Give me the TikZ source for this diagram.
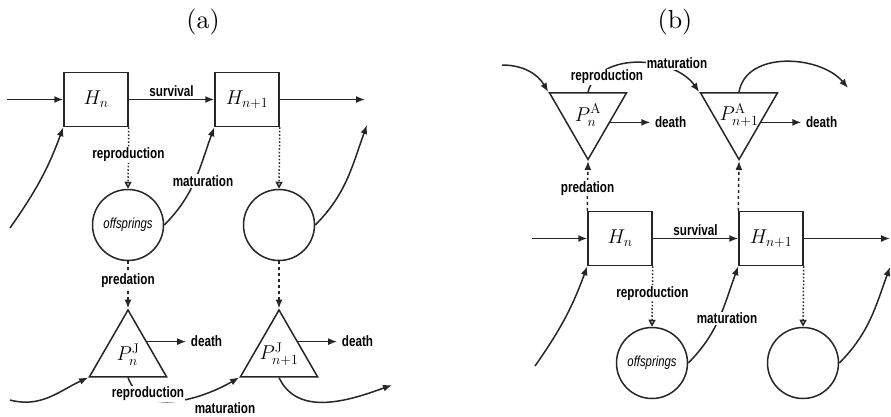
\RequirePackage{fix-cm}
\documentclass[tikz,border=0pt]{standalone}
\usepackage{fontspec}
\newfontfamily\lblfont[FakeStretch=0.78]{Liberation Sans}
\newfontfamily\capfont{lmroman10-regular}[Extension=.otf]
\usetikzlibrary{arrows.meta,shapes.geometric,calc,positioning}

\begin{document}
\begin{tikzpicture}[x=1pt,y=1pt,>={Latex[length=9pt,width=7pt]},node distance=151pt,
  line width=1.5pt,draw=black!85,
  stage/.style={draw,rectangle,minimum width=64pt,minimum height=54pt,inner sep=0pt,font=\fontsize{20}{22}\selectfont},
  brood/.style={draw,circle,minimum size=71pt,inner sep=0pt,font=\lblfont\itshape\fontsize{14.5}{16}\selectfont},
  tri/.style={draw,regular polygon,regular polygon sides=3,minimum size=89pt,inner sep=0pt},
  trilbl/.style={label={[font=\fontsize{20}{22}\selectfont]center:#1}},
  lbl/.style={font=\lblfont\bfseries\fontsize{15}{17}\selectfont,fill=white,inner sep=1pt},
  repro/.style={dotted,-{Triangle[open,length=7pt,width=7pt]}},
  pred/.style={dashed,->},
  flow/.style={->}]
  \useasboundingbox (0,0) rectangle (891,-416);

  % (a)
  \node[font=\capfont\fontsize{26}{28}\selectfont] (ta) at (203,-22) {(a)};
  \node[stage] (Ha) at (96,-99.5) {$H_n$};
  \node[stage,right of=Ha] (Ha1) {$H_{n+1}$};
  \node[brood] (Oa) at (128,-225) {offsprings};
  \node[brood,right of=Oa] (Oa1) {};
  \node[tri,trilbl={$P_n^{\mathrm{J}}$}] (Pa) at (128,-354.5) {};
  \node[tri,trilbl={$P_{n+1}^{\mathrm{J}}$},right of=Pa] (Pa1) {};
  \coordinate (ina) at (7,-99.5);
  \coordinate (outa) at (365,-99.5);
  \coordinate (c1) at (10,-228);
  \coordinate (c2) at (367,-125);
  \coordinate (c3) at (10,-400);
  \coordinate (c4) at (392,-385);
  \draw[flow] (ina) -- (Ha);
  \draw[flow] (Ha) -- node[above=1pt,lbl]{survival} (Ha1);
  \draw[flow] (Ha1) -- (outa);
  \draw[flow] (c1) to[out=55,in=250] (Ha.south west);
  \draw[flow] (Oa.east) to[out=45,in=250] (Ha1.south west);
  \draw[flow] (Oa1.east) to[out=45,in=250] (c2);
  \draw[repro] (Ha.south east) -- node[lbl,pos=0.45]{reproduction} (Oa.north);
  \draw[repro] (Ha1.south east) -- (Oa1.north);
  \draw[pred] (Oa) -- node[lbl,pos=0.42]{predation} (Pa.corner 1);
  \draw[pred] (Oa1) -- (Pa1.corner 1);
  \coordinate (sa) at ($(Pa.corner 1)!0.48!(Pa.corner 3)$);
  \coordinate (sa1) at ($(Pa1.corner 1)!0.48!(Pa1.corner 3)$);
  \node[lbl,anchor=west,inner xsep=4pt] (da) at ([xshift=39pt]sa) {death};
  \node[lbl,anchor=west,inner xsep=4pt] (da1) at ([xshift=39pt]sa1) {death};
  \draw[flow] (sa) -- (da);
  \draw[flow] (sa1) -- (da1);
  \draw[flow] (c3) to[out=-15,in=205] (Pa.corner 2);
  \draw[flow] (Pa.side 2) to[out=-70,in=210] (Pa1.corner 2);
  \draw[flow] (Pa1.side 2) to[out=-65,in=200] (c4);
  \node[lbl] (ra) at (148,-394) {reproduction};
  \node[lbl] (ma) at (225,-408) {maturation};
  \node[lbl] (mb) at (203,-181) {maturation};

  % (b)
  \node[font=\capfont\fontsize{26}{28}\selectfont] (tb) at (675,-22) {(b)};
  \node[stage] (Hb) at (620,-238.5) {$H_n$};
  \node[stage,right of=Hb] (Hb1) {$H_{n+1}$};
  \node[brood] (Ob) at (652,-363) {offsprings};
  \node[brood,right of=Ob] (Ob1) {};
  \node[tri,shape border rotate=180,trilbl={$P_n^{\mathrm{A}}$}] (Pb) at (588,-115) {};
  \node[tri,shape border rotate=180,trilbl={$P_{n+1}^{\mathrm{A}}$},right of=Pb] (Pb1) {};
  \coordinate (inb) at (532,-238.5);
  \coordinate (outb) at (890,-238.5);
  \coordinate (d1) at (535,-366);
  \coordinate (d2) at (890,-267);
  \coordinate (d3) at (502,-65);
  \coordinate (d4) at (848,-88);
  \draw[flow] (inb) -- (Hb);
  \draw[flow] (Hb) -- node[above=1pt,lbl]{survival} (Hb1);
  \draw[flow] (Hb1) -- (outb);
  \draw[flow] (d1) to[out=55,in=250] (Hb.south west);
  \draw[flow] (Ob.east) to[out=45,in=250] (Hb1.south west);
  \draw[flow] (Ob1.east) to[out=45,in=250] (d2);
  \draw[repro] (Hb.south east) -- node[lbl,pos=0.45]{reproduction} (Ob.north);
  \draw[repro] (Hb1.south east) -- (Ob1.north);
  \draw[pred] (Hb.north west) -- node[lbl,pos=0.45]{predation} (Pb.corner 1);
  \draw[pred] (Hb1.north west) -- (Pb1.corner 1);
  \coordinate (sb) at ($(Pb.corner 2)!0.44!(Pb.corner 1)$);
  \coordinate (sb1) at ($(Pb1.corner 2)!0.44!(Pb1.corner 1)$);
  \node[lbl,anchor=west,inner xsep=4pt] (db) at ([xshift=40pt]sb) {death};
  \node[lbl,anchor=west,inner xsep=4pt] (db1) at ([xshift=40pt]sb1) {death};
  \draw[flow] (sb) -- (db);
  \draw[flow] (sb1) -- (db1);
  \draw[flow] (d3) to[out=0,in=120] (Pb.corner 3);
  \draw[flow] (Pb.side 2) to[out=75,in=125] (Pb1.corner 3);
  \draw[flow] (Pb1.side 2) to[out=80,in=130] (d4);
  \node[lbl] (rb) at (607,-77) {reproduction};
  \node[lbl] (mc) at (677,-63) {maturation};
  \node[lbl] (md) at (727,-318) {maturation};
\end{tikzpicture}
\end{document}
